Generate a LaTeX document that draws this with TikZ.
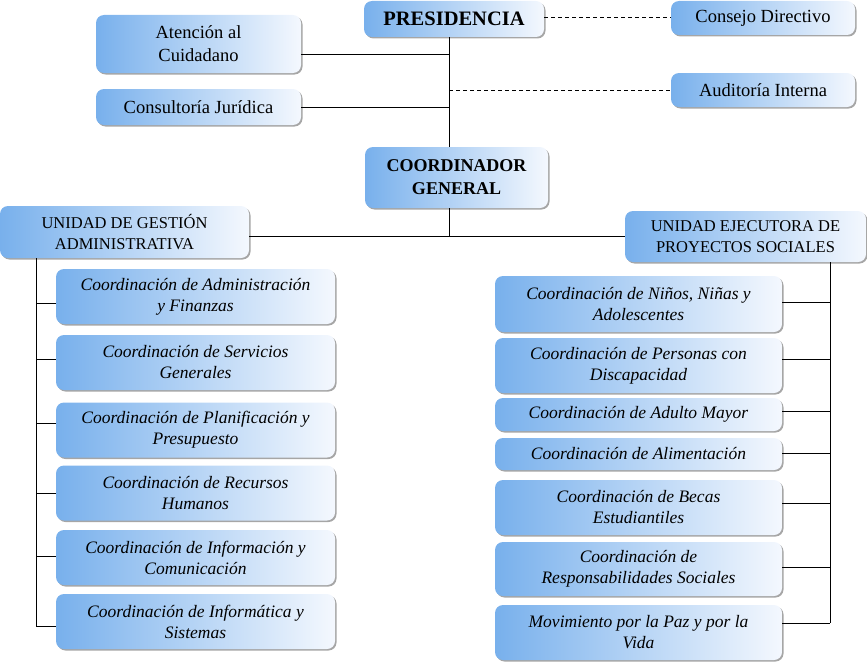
\documentclass[tikz,border=0pt]{standalone}
\usepackage{fontspec}
\setmainfont{Liberation Serif}
\usetikzlibrary{shadows}
\definecolor{ofiazul}{RGB}{120,176,236}
\definecolor{ofiblanco}{RGB}{244,248,254}
\tikzstyle{oficina}=[rounded corners=8pt,left color=ofiazul,right color=ofiblanco,
    drop shadow={shadow xshift=1.5pt,shadow yshift=-1.5pt,fill=black!50,opacity=.7},
    align=center,inner sep=2pt]
\tikzstyle{oficina alta}=[oficina,font=\fontsize{18.5}{23}\selectfont]
\tikzstyle{oficina mando}=[oficina,font=\fontsize{18}{23}\selectfont\bfseries]
\tikzstyle{oficina unidad}=[oficina,font=\fontsize{16.5}{21}\selectfont]
\tikzstyle{oficina izq}=[oficina,minimum width=279pt,minimum height=55pt,
    font=\fontsize{17.5}{21}\selectfont\itshape]
\tikzstyle{oficina der}=[oficina,minimum width=287pt,minimum height=55pt,
    font=\fontsize{17.5}{21}\selectfont\itshape]
\tikzstyle{linea}=[line width=1pt]
\tikzstyle{linea punteada}=[linea,dash pattern=on 4pt off 3pt]
\newcommand{\puesto}[4][oficina alta]{
    \node[#1] at (#2) (#3) {#4};
}
\newcommand{\ramaizq}[2][0]{
    \draw[linea] (#2.west) ++(0,#1) coordinate (#2 rama) -- (#2 rama -| IZQ);}
\newcommand{\ramader}[2][0]{
    \draw[linea] (#2.east) ++(0,#1) coordinate (#2 rama) -- (#2 rama -| DER);}

\begin{document}
\begin{tikzpicture}[x=1pt,y=-1pt]
    \useasboundingbox (0,0) rectangle (867,661);
    \coordinate (EJE) at (449,0);
    \coordinate (IZQ) at (36,0);
    \coordinate (DER) at (830,0);
    %
    \puesto[oficina mando,minimum width=180pt,minimum height=36pt,
        font=\fontsize{20.5}{24}\selectfont\bfseries]{454,19}{PRES}{PRESIDENCIA}
    \puesto[oficina alta,minimum width=184pt,minimum height=34pt]{763,18}{CONS}{Consejo Directivo}
    \puesto[oficina alta,minimum width=205pt,minimum height=58pt]{198.5,44}{ATEN}{Atención al\\Cuidadano}
    \puesto[oficina alta,minimum width=205pt,minimum height=36pt]{198.5,107}{JURI}{Consultoría Jurídica}
    \puesto[oficina alta,minimum width=184pt,minimum height=34pt]{763,90}{AUDI}{Auditoría Interna}
    \puesto[oficina mando,minimum width=183pt,minimum height=61pt]{456.5,177.5}{COOR}{COORDINADOR\\GENERAL}
    %
    \puesto[oficina unidad,minimum width=249pt,minimum height=52pt]{124.5,232}{UGA}{UNIDAD DE GESTIÓN\\ADMINISTRATIVA}
    \puesto[oficina unidad,minimum width=241pt,minimum height=51pt]{745.5,236.5}{UEPS}{UNIDAD EJECUTORA DE\\PROYECTOS SOCIALES}
    %
    \puesto[oficina izq]{195.5,296.5}{A1}{Coordinación de Administración\\y Finanzas}
    \puesto[oficina izq]{195.5,362.5}{A2}{Coordinación de Servicios\\Generales}
    \puesto[oficina izq]{195.5,430}{A3}{Coordinación de Planificación y\\Presupuesto}
    \puesto[oficina izq]{195.5,493}{A4}{Coordinación de Recursos\\Humanos}
    \puesto[oficina izq]{195.5,557.5}{A5}{Coordinación de Información y\\Comunicación}
    \puesto[oficina izq]{195.5,621.5}{A6}{Coordinación de Informática y\\Sistemas}
    %
    \puesto[oficina der,minimum height=56pt]{638.5,304}{S1}{Coordinación de Niños, Niñas y\\Adolescentes}
    \puesto[oficina der]{638.5,365.5}{S2}{Coordinación de Personas con\\Discapacidad}
    \puesto[oficina der,minimum height=33pt]{638.5,414.5}{S3}{Coordinación de Adulto Mayor}
    \puesto[oficina der,minimum height=32pt]{638.5,454}{S4}{Coordinación de Alimentación}
    \puesto[oficina der]{638.5,507.5}{S5}{Coordinación de Becas\\Estudiantiles}
    \puesto[oficina der,minimum height=54pt]{638.5,569}{S6}{Coordinación de\\Responsabilidades Sociales}
    \puesto[oficina der]{638.5,632.5}{S7}{Movimiento por la Paz y por la\\Vida}
    %
    \draw[linea] (PRES.south -| EJE) -- (COOR.north -| EJE);
    \draw[linea] (ATEN.east) ++(0,11) coordinate (ATEN rama) -- (ATEN rama -| EJE);
    \draw[linea] (JURI.east) -- (JURI.east -| EJE);
    \draw[linea punteada] (CONS.west -| PRES.east) -- (CONS.west);
    \draw[linea punteada] (AUDI.west -| EJE) -- (AUDI.west);
    %
    \draw[linea] (COOR.south -| EJE) -- (EJE |- UEPS.west);
    \draw[linea] (UGA.east |- UEPS.west) -- (UEPS.west);
    %
    \ramaizq[6.5]{A1}
    \ramaizq[-3.5]{A2}
    \ramaizq[-7]{A3}
    \ramaizq{A4}
    \ramaizq[-1.5]{A5}
    \ramaizq[4.5]{A6}
    \draw[linea] (UGA.south -| IZQ) -- (A6 rama -| IZQ);
    %
    \ramader[-2]{S1}
    \ramader[-6.5]{S2}
    \ramader[-3.5]{S3}
    \ramader[-1]{S4}
    \ramader[-4.5]{S5}
    \ramader[-2]{S6}
    \ramader[-9.5]{S7}
    \draw[linea] (UEPS.south -| DER) -- (S7 rama -| DER);
\end{tikzpicture}
\end{document}
